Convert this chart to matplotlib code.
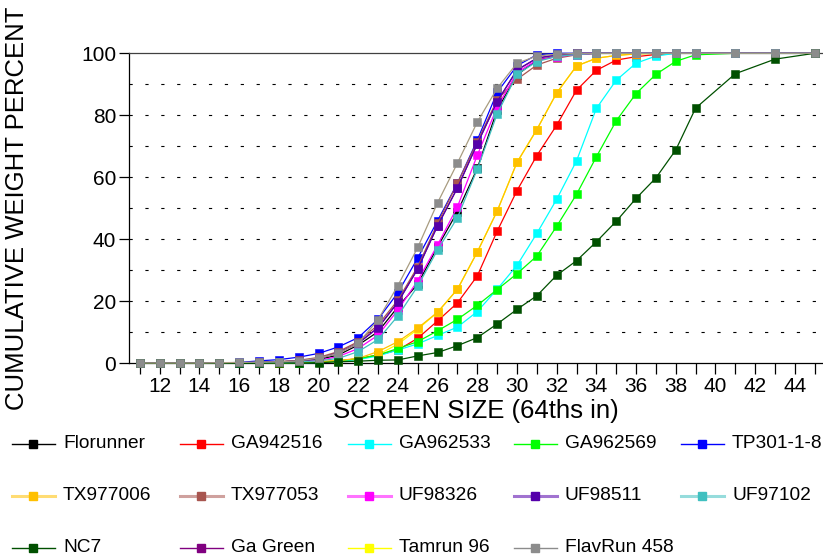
import matplotlib
matplotlib.use("Agg")
import matplotlib.pyplot as plt
from matplotlib.lines import Line2D

plt.rcParams['font.family'] = ['Liberation Sans', 'DejaVu Sans']

# screen sizes (64ths of an inch)
sizes = list(range(11, 40)) + [41, 43, 45]

florunner = [0, 0, 0, 0, 0.1, 0.2, 0.3, 0.5, 0.7, 1.2, 2.7, 5.9, 10.2, 18.2, 25.6, 37.6, 48.9, 62.9, 81.7, 93.0,
             97.8, 99.0, 99.6, 100, 100, 100, 100, 100, 100, 100, 100, 100]
ga942516 = [0, 0, 0, 0, 0, 0, 0.1, 0.2, 0.3, 0.4, 0.8, 1.5, 2.7, 4.3, 8.1, 13.7, 19.5, 28.2, 42.6, 55.7,
            67.0, 76.8, 88.1, 94.5, 97.8, 98.9, 99.6, 100, 100, 100, 100, 100]
ga962533 = [0, 0, 0, 0, 0, 0, 0.1, 0.1, 0.2, 0.3, 0.7, 1.2, 2.4, 4.3, 6.3, 9.0, 11.7, 16.7, 23.9, 31.6,
            41.9, 52.9, 65.3, 82.2, 91.3, 96.8, 99.1, 100, 100, 100, 100, 100]
ga962569 = [0, 0, 0, 0, 0, 0, 0.1, 0.1, 0.2, 0.3, 0.8, 1.5, 2.7, 4.8, 7.0, 10.5, 14.2, 18.7, 23.8, 28.9,
            34.6, 44.2, 54.5, 66.6, 78.2, 87.0, 93.2, 97.4, 99.5, 100, 100, 100]
tp301 = [0, 0, 0, 0, 0.1, 0.3, 0.8, 1.2, 2.0, 3.2, 5.3, 8.3, 14.2, 22.8, 34.0, 46.0, 58.1, 72.0, 87.4, 96.0,
         99.5, 100, 100, 100, 100, 100, 100, 100, 100, 100, 100, 100]
tx977006 = [0, 0, 0, 0, 0, 0, 0.1, 0.2, 0.3, 0.6, 0.9, 1.6, 3.8, 7.0, 11.4, 16.5, 23.9, 35.9, 49.1, 64.8,
            75.4, 87.2, 95.9, 98.4, 99.3, 99.8, 100, 100, 100, 100, 100, 100]
tx977053 = [0, 0, 0, 0, 0.1, 0.2, 0.3, 0.5, 1.0, 1.9, 3.8, 7.0, 12.4, 20.4, 31.2, 45.2, 58.1, 71.5, 85.0, 91.6,
            96.2, 98.4, 99.5, 100, 100, 100, 100, 100, 100, 100, 100, 100]
uf98326 = [0, 0, 0, 0, 0.1, 0.1, 0.2, 0.3, 0.5, 0.9, 2.2, 4.8, 9.1, 17.2, 26.7, 38.2, 50.5, 67.1, 82.6, 93.8,
           97.8, 98.9, 99.6, 100, 100, 100, 100, 100, 100, 100, 100, 100]
uf98511 = [0, 0, 0, 0, 0.1, 0.2, 0.3, 0.5, 0.8, 1.6, 3.4, 6.5, 11.5, 19.7, 30.5, 44.4, 56.6, 70.8, 84.4, 94.6,
           98.4, 99.5, 100, 100, 100, 100, 100, 100, 100, 100, 100, 100]
uf97102 = [0, 0, 0, 0, 0, 0.1, 0.2, 0.3, 0.5, 0.8, 1.6, 3.8, 7.7, 15.3, 24.9, 36.6, 47.0, 62.6, 80.4, 93.2,
           97.3, 99.0, 99.6, 100, 100, 100, 100, 100, 100, 100, 100, 100]
nc7 = [0, 0, 0, 0, 0, 0, 0, 0.1, 0.1, 0.2, 0.5, 0.7, 1.0, 1.1, 2.4, 3.5, 5.7, 8.3, 12.7, 17.4,
       21.8, 28.4, 33.1, 39.2, 45.8, 53.2, 59.8, 68.8, 82.3, 93.4, 98.1, 100]
ga_green = [0, 0, 0, 0, 0.1, 0.2, 0.3, 0.5, 0.8, 1.6, 3.4, 6.5, 11.5, 19.7, 30.5, 44.4, 56.6, 70.8, 84.4, 94.6,
            98.4, 99.5, 100, 100, 100, 100, 100, 100, 100, 100, 100, 100]
tamrun96 = [0, 0, 0, 0, 0, 0, 0.1, 0.1, 0.2, 0.4, 0.6, 1.2, 2.8, 6.2, 11.0, 16.5, 23.9, 35.9, 49.1, 64.8,
            75.4, 87.2, 95.9, 98.4, 99.3, 99.8, 100, 100, 100, 100, 100, 100]
flavrun458 = [0.1, 0.1, 0.1, 0.1, 0.2, 0.3, 0.4, 0.5, 0.8, 1.7, 3.2, 6.5, 14.1, 25.1, 37.4, 51.8, 64.6, 77.8, 88.7,
              96.8, 99.1, 99.7, 100, 100, 100, 100, 100, 100, 100, 100, 100, 100]

names = ["Florunner", "GA942516", "GA962533", "GA962569", "TP301-1-8",
         "TX977006", "TX977053", "UF98326", "UF98511", "UF97102",
         "NC7", "Ga Green", "Tamrun 96", "FlavRun 458"]
series = [florunner, ga942516, ga962533, ga962569, tp301,
          tx977006, tx977053, uf98326, uf98511, uf97102,
          nc7, ga_green, tamrun96, flavrun458]
colors = ["#000000", "#FF0000", "#00FFFF", "#00FF00", "#0000FF",
          "#FFC000", "#A8554F", "#FF00FF", "#5500AA", "#40C0C0",
          "#005000", "#800080", "#FFFF00", "#8C8C8C"]
line_colors = list(colors)
line_colors[13] = "#A89C80"
zorders = [3, 3, 3, 3, 3, 3, 3, 3, 3, 3, 3, 2, 2, 4]

fig = plt.figure(figsize=(8.23, 5.59), dpi=100)
ax = fig.add_axes([0.157, 0.350, 0.843, 0.5547])

for vals, c, lc, z in zip(series, colors, line_colors, zorders):
    ax.plot(sizes, vals, color=lc, lw=0.9, marker="s", ms=5.8, mfc=c, mec=c, mew=0.4, zorder=z,
            clip_on=False)

ax.set_xlim(10.46, 45.42)
ax.set_ylim(0, 100)
ax.set_xticks(range(11, 46))
ax.set_xticklabels([str(t) if t % 2 == 0 else "" for t in range(11, 46)])
ax.set_yticks(range(0, 101, 20))
ax.tick_params(axis="x", direction="out", length=8, width=0.9, labelsize=15, pad=2)
ax.tick_params(axis="y", direction="out", length=7.5, width=0.9, labelsize=15, pad=2)

for v in range(10, 100, 10):
    ax.axhline(v, color="black", lw=0.8, ls=(0, (2.9, 11.4)), zorder=1)

ax.spines["right"].set_visible(False)
ax.spines["top"].set_color("#404040")
for s in ["left", "bottom", "top"]:
    ax.spines[s].set_linewidth(0.9)

ax.set_xlabel("SCREEN SIZE (64ths in)", fontsize=18.5, labelpad=2)
ax.set_ylabel("CUMULATIVE WEIGHT PERCENT", fontsize=18.5)
ax.yaxis.set_label_coords(-0.145, 0.5)

# legend laid out as a 5-column grid, filled row by row
W, H = 823.0, 559.0
col_x = [63, 231, 399, 565, 732]
row_y = [444, 496, 548]
for i, (name, c) in enumerate(zip(names, colors)):
    r, k = divmod(i, 5)
    tx = col_x[k]
    ty = 1 - row_y[r] / H
    if r == 1:
        fig.add_artist(Line2D([(tx - 51) / W, (tx - 8) / W], [ty, ty], color=c, lw=2.2, alpha=0.55,
                              transform=fig.transFigure))
    else:
        fig.add_artist(Line2D([(tx - 51) / W, (tx - 8) / W], [ty, ty], color=c, lw=1.0,
                              transform=fig.transFigure))
    fig.add_artist(Line2D([(tx - 30) / W], [ty], color=c, marker="s", ms=5.8, mec=c,
                          transform=fig.transFigure))
    fig.text(tx / W, ty, name, fontsize=13.8, va="center", ha="left")

fig.savefig("out.png", dpi=100)
